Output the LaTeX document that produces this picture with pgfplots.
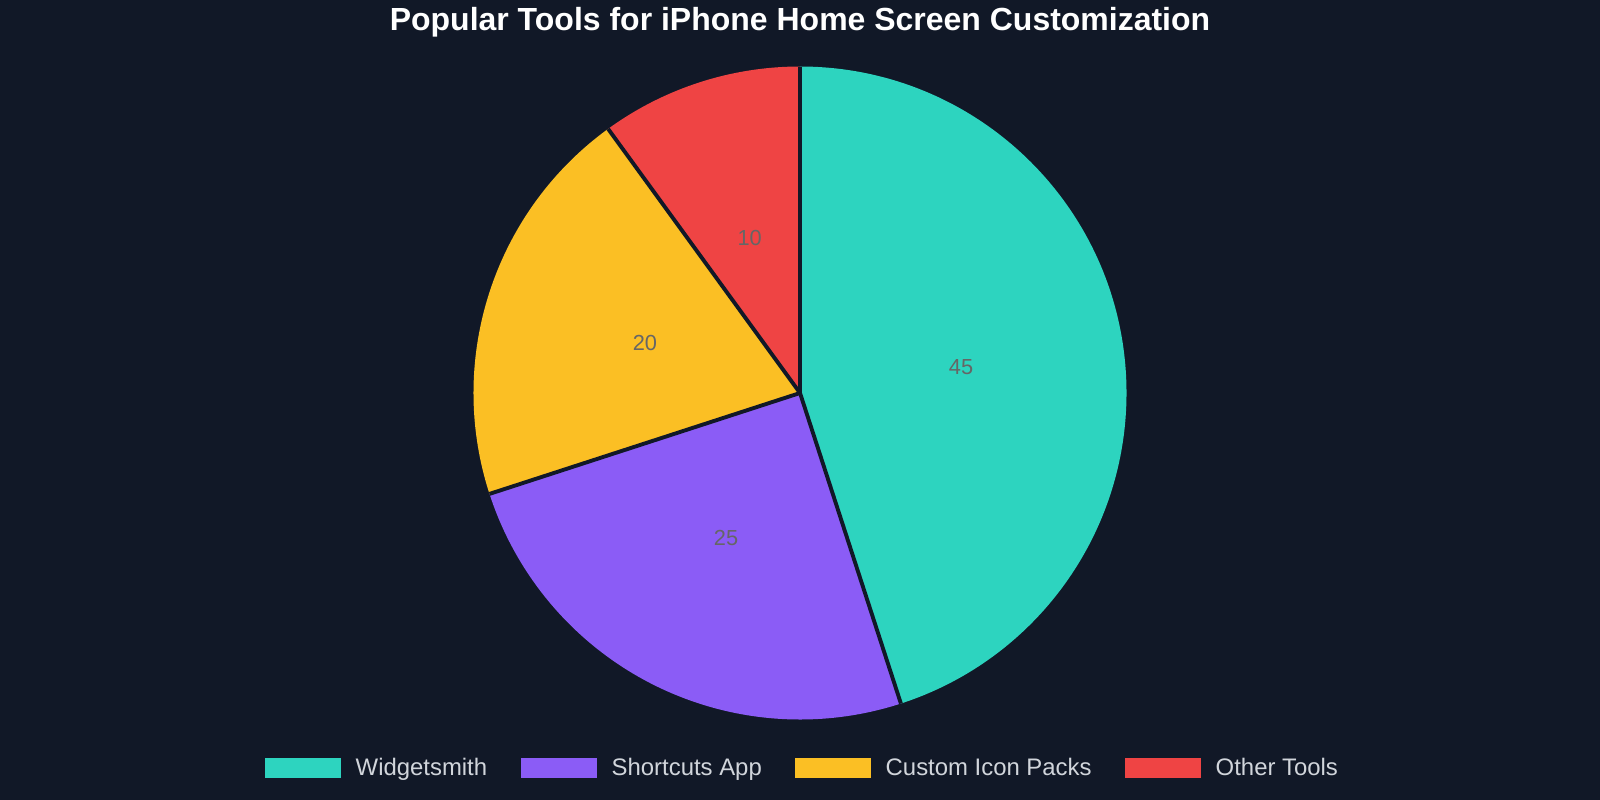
\documentclass[border=0pt]{standalone}
\usepackage{pgfplots}
\pgfplotsset{compat=1.18}
\usetikzlibrary{calc}
\usepackage{fontspec}
\setmainfont{Liberation Sans}

\definecolor{bg}{HTML}{111827}
\definecolor{cA}{HTML}{2DD4BF}
\definecolor{cB}{HTML}{8B5CF6}
\definecolor{cC}{HTML}{FBBF24}
\definecolor{cD}{HTML}{EF4444}
\definecolor{lbl}{HTML}{666666}
\definecolor{legtxt}{HTML}{D1D5DB}

% values of the slices (percent)
\def\vA{45}
\def\vB{25}
\def\vC{20}
\def\vD{10}
\def\R{3.265cm}
\def\Rh{1.63cm}
% angles: start at top, clockwise
\pgfmathsetmacro{\sA}{90}
\pgfmathsetmacro{\sB}{\sA-3.6*\vA}
\pgfmathsetmacro{\sC}{\sB-3.6*\vB}
\pgfmathsetmacro{\sD}{\sC-3.6*\vC}
\pgfmathsetmacro{\sE}{\sD-3.6*\vD}
\pgfmathsetmacro{\mA}{(\sA+\sB)/2}
\pgfmathsetmacro{\mB}{(\sB+\sC)/2}
\pgfmathsetmacro{\mC}{(\sC+\sD)/2}
\pgfmathsetmacro{\mD}{(\sD+\sE)/2}

\begin{document}
\begin{tikzpicture}
\begin{axis}[
  width=16cm, height=8cm, scale only axis,
  xmin=0, xmax=1600, ymin=0, ymax=800,
  hide axis, clip=false,
]
\fill[bg] (axis cs:0,0) rectangle (axis cs:1600,800);

\node[font=\bfseries\fontsize{9.1pt}{10pt}\selectfont, text=white] at (axis cs:800,778) {Popular Tools for iPhone Home Screen Customization};

\fill[cA] (axis cs:800,407) -- ++(\sA:\R) arc[start angle=\sA, end angle=\sB, radius=\R] -- cycle;
\fill[cB] (axis cs:800,407) -- ++(\sB:\R) arc[start angle=\sB, end angle=\sC, radius=\R] -- cycle;
\fill[cC] (axis cs:800,407) -- ++(\sC:\R) arc[start angle=\sC, end angle=\sD, radius=\R] -- cycle;
\fill[cD] (axis cs:800,407) -- ++(\sD:\R) arc[start angle=\sD, end angle=\sE, radius=\R] -- cycle;
\draw[bg, line width=1.1pt] (axis cs:800,407) -- ++(\sA:\R);
\draw[bg, line width=1.1pt] (axis cs:800,407) -- ++(\sB:\R);
\draw[bg, line width=1.1pt] (axis cs:800,407) -- ++(\sC:\R);
\draw[bg, line width=1.1pt] (axis cs:800,407) -- ++(\sD:\R);

\node[text=lbl, font=\fontsize{6.2pt}{7pt}\selectfont] at ($(axis cs:800,407)+(\mA:\Rh)$) {\vA};
\node[text=lbl, font=\fontsize{6.2pt}{7pt}\selectfont] at ($(axis cs:800,407)+(\mB:\Rh)$) {\vB};
\node[text=lbl, font=\fontsize{6.2pt}{7pt}\selectfont] at ($(axis cs:800,407)+(\mC:\Rh)$) {\vC};
\node[text=lbl, font=\fontsize{6.2pt}{7pt}\selectfont] at ($(axis cs:800,407)+(\mD:\Rh)$) {\vD};

% legend
\fill[cA] (axis cs:265,22.5) rectangle (axis cs:341,42);
\node[anchor=base west, text=legtxt, font=\fontsize{6.8pt}{8pt}\selectfont, inner sep=0pt] at (axis cs:355,24.5) {Widgetsmith};
\fill[cB] (axis cs:521,22.5) rectangle (axis cs:597,42);
\node[anchor=base west, text=legtxt, font=\fontsize{6.8pt}{8pt}\selectfont, inner sep=0pt] at (axis cs:611,24.5) {Shortcuts App};
\fill[cC] (axis cs:795,22.5) rectangle (axis cs:871,42);
\node[anchor=base west, text=legtxt, font=\fontsize{6.8pt}{8pt}\selectfont, inner sep=0pt] at (axis cs:885,24.5) {Custom Icon Packs};
\fill[cD] (axis cs:1125,22.5) rectangle (axis cs:1201,42);
\node[anchor=base west, text=legtxt, font=\fontsize{6.8pt}{8pt}\selectfont, inner sep=0pt] at (axis cs:1215,24.5) {Other Tools};
\end{axis}
\pgfresetboundingbox
\path[use as bounding box] (0,0) rectangle (16cm,8cm);
\end{tikzpicture}
\end{document}
